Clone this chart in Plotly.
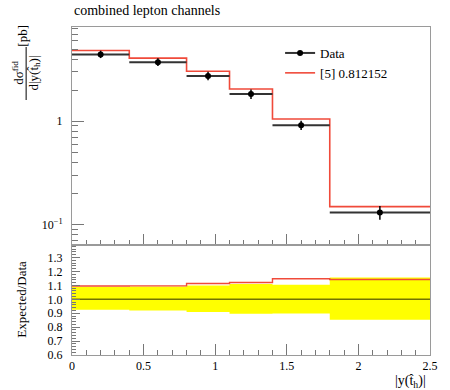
import plotly.graph_objects as go

# ---- data ----
bin_edges = [0.0, 0.4, 0.8, 1.1, 1.4, 1.8, 2.5]
data_vals = [4.42, 3.73, 2.74, 1.83, 0.915, 0.130]
data_err_up = [0.40, 0.34, 0.27, 0.20, 0.095, 0.0203]
data_err_dn = [0.33, 0.30, 0.25, 0.19, 0.094, 0.0192]
pred_vals = [4.84, 4.09, 3.05, 2.05, 1.05, 0.1485]
x_tick_vals = [0, 0.5, 1, 1.5, 2, 2.5]
main_y_tick_vals = [0.1, 1]
main_y_tick_text = ["10<sup>\u22121</sup>", "1"]
main_y_minor_vals = [0.07, 0.08, 0.09, 0.2, 0.3, 0.4, 0.5, 0.6, 0.7, 0.8, 0.9, 2, 3, 4, 5, 6, 7, 8]
ratio_tick_vals = [0.6, 0.7, 0.8, 0.9, 1.0, 1.1, 1.2, 1.3]

# derived
centers = [(a + b) / 2 for a, b in zip(bin_edges[:-1], bin_edges[1:])]
half_w = [(b - a) / 2 for a, b in zip(bin_edges[:-1], bin_edges[1:])]
step_pred = pred_vals + [pred_vals[-1]]
ratio_pred = [p / d for p, d in zip(pred_vals, data_vals)]
ratio_data = [d / d for d in data_vals]
band_hi = [1 + u / d for u, d in zip(data_err_up, data_vals)]
band_lo = [1 - e / d for e, d in zip(data_err_dn, data_vals)]

def stepv(v):
    return v + [v[-1]]

FONT = "Liberation Serif"
RED = "#f04a3a"
FRAME = "#9a9a9a"
TICK = "#777777"

# pixel geometry helpers
L, R, T, B = 72, 435, 27, 355
W, H = R - L, B - T
def px(x):
    return (x - L) / W
def py(y):
    return (B - y) / H

split = py(245)

fig = go.Figure()

# main panel
fig.add_trace(go.Scatter(
    x=bin_edges, y=step_pred, mode="lines", line=dict(color=RED, width=1.6, shape="hv"),
    name="[5] 0.812152", showlegend=False, xaxis="x", yaxis="y"))
fig.add_trace(go.Scatter(
    x=centers, y=data_vals, mode="markers",
    marker=dict(color="black", size=6),
    error_x=dict(type="data", array=half_w, thickness=2, width=0, color="#333333"),
    error_y=dict(type="data", array=data_err_up, arrayminus=data_err_dn, thickness=1.5, width=0, color="black"),
    showlegend=False, xaxis="x", yaxis="y"))
# legend entries
fig.add_trace(go.Scatter(x=[None], y=[None], mode="lines+markers", name="Data",
                         line=dict(color="#333333", width=2), marker=dict(color="black", size=6),
                         xaxis="x", yaxis="y"))
fig.add_trace(go.Scatter(x=[None], y=[None], mode="lines", name="[5] 0.812152",
                         line=dict(color=RED, width=1.6), xaxis="x", yaxis="y"))

# ratio panel
fig.add_trace(go.Scatter(x=bin_edges, y=stepv(band_lo), mode="lines",
                         line=dict(width=0, shape="hv"), showlegend=False,
                         hoverinfo="skip", xaxis="x2", yaxis="y2"))
fig.add_trace(go.Scatter(x=bin_edges, y=stepv(band_hi), mode="lines",
                         line=dict(width=0, shape="hv"), fill="tonexty", fillcolor="#ffff00",
                         showlegend=False, hoverinfo="skip", xaxis="x2", yaxis="y2"))
fig.add_trace(go.Scatter(x=bin_edges, y=stepv(ratio_data), mode="lines",
                         line=dict(color="rgba(0,0,0,0.55)", width=1.5, shape="hv"),
                         showlegend=False, xaxis="x2", yaxis="y2"))
fig.add_trace(go.Scatter(x=bin_edges, y=stepv(ratio_pred), mode="lines",
                         line=dict(color=RED, width=1.4, shape="hv"),
                         showlegend=False, xaxis="x2", yaxis="y2"))

common_x = dict(range=[0, 2.5], showline=True, linecolor=FRAME, linewidth=1, mirror=True,
                ticks="inside", ticklen=11, tickcolor=TICK, tickwidth=1,
                tickvals=x_tick_vals, showgrid=False, zeroline=False,
                minor=dict(ticks="inside", ticklen=5, dtick=0.1, tick0=0, tickcolor=TICK, showgrid=False))

fig.update_layout(
    width=450, height=390,
    margin=dict(l=L, r=450 - R, t=T, b=390 - B),
    paper_bgcolor="white", plot_bgcolor="white",
    font=dict(family=FONT, size=12, color="black"),
    xaxis=dict(domain=[0, 1], anchor="y", showticklabels=False, **common_x),
    xaxis2=dict(domain=[0, 1], anchor="y2", matches="x", showticklabels=True,
                tickfont=dict(size=12), **common_x),
    yaxis=dict(domain=[split, 1], type="log", range=[-1.2, 0.913], anchor="x",
               showline=True, linecolor=FRAME, linewidth=1, mirror=True,
               ticks="inside", ticklen=12, tickcolor=TICK,
               tickvals=main_y_tick_vals, ticktext=main_y_tick_text,
               ticklabelstandoff=6,
               showgrid=False, zeroline=False, tickfont=dict(size=12),
               minor=dict(ticks="inside", ticklen=6, tickvals=main_y_minor_vals, tickcolor=TICK, showgrid=False)),
    yaxis2=dict(domain=[0, split], range=[0.6, 1.39], anchor="x2",
                showline=True, linecolor=FRAME, linewidth=1, mirror=True,
                ticks="inside", ticklen=8, tickcolor=TICK,
                tickvals=ratio_tick_vals, tickformat=".1f", ticklabelstandoff=6,
                showgrid=False, zeroline=False, tickfont=dict(size=12),
                minor=dict(ticks="inside", ticklen=4, dtick=0.02, tick0=0.6, tickcolor=TICK, showgrid=False)),
    legend=dict(x=px(283), y=py(38), xanchor="left", yanchor="top",
                bgcolor="rgba(0,0,0,0)", font=dict(size=13, family=FONT),
                tracegroupgap=0, traceorder="normal"),
    showlegend=True,
)

annotations = [
    dict(text="combined lepton channels", x=0, y=py(11), xref="paper", yref="paper",
         xanchor="left", yanchor="middle", showarrow=False, font=dict(size=14)),
    dict(text="dσ<sup>fid</sup>", x=px(17), y=py(73), xref="paper", yref="paper",
         xanchor="center", yanchor="middle", textangle=-90, showarrow=False, font=dict(size=13)),
    dict(text="d|y(t\u0302<sub>h</sub>)|", x=px(33), y=py(73), xref="paper", yref="paper",
         xanchor="center", yanchor="middle", textangle=-90, showarrow=False, font=dict(size=13)),
    dict(text="[pb]", x=px(21), y=py(36), xref="paper", yref="paper",
         xanchor="center", yanchor="middle", textangle=-90, showarrow=False, font=dict(size=13)),
    dict(text="Expected/Data", x=px(20), y=py(299), xref="paper", yref="paper",
         xanchor="center", yanchor="middle", textangle=-90, showarrow=False, font=dict(size=13)),
    dict(text="|y(t\u0302<sub>h</sub>)|", x=px(433), y=py(381), xref="paper", yref="paper",
         xanchor="right", yanchor="middle", showarrow=False, font=dict(size=14)),
]
fig.update_layout(annotations=annotations)
fig.add_shape(type="line", xref="paper", yref="paper", x0=px(25.5), x1=px(25.5),
              y0=py(47), y1=py(100), line=dict(color="black", width=1))

fig.write_html("out.html", config={"displayModeBar": False},
               post_script="document.body.style.margin='0';document.body.style.padding='0';")
